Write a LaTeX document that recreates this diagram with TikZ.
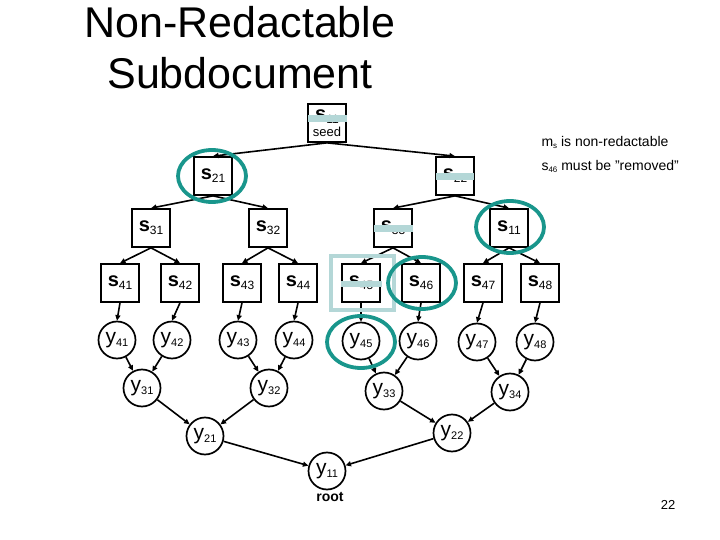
\documentclass[tikz,border=0pt]{standalone}
\usepackage{fontspec}
\setmainfont{Liberation Sans}
\usetikzlibrary{arrows.meta}

\definecolor{ringteal}{RGB}{25,150,140}
\definecolor{paleblue}{RGB}{180,215,215}

\newcommand{\sn}[1]{{\fontsize{20}{20}\selectfont\bfseries s}\raisebox{-3pt}{\fontsize{12}{12}\selectfont #1}}
\newcommand{\yn}[1]{{\fontsize{21}{21}\selectfont y}\raisebox{-3pt}{\fontsize{11}{11}\selectfont #1}}

\begin{document}
\begin{tikzpicture}[x=1pt, y=-1pt,
  sbox/.style={draw, line width=1.7pt, fill=white, minimum size=38pt, inner sep=0pt},
  ycirc/.style={draw, circle, line width=1.7pt, fill=white, minimum size=37pt, inner sep=0pt},
  arr/.style={-{Triangle[length=5.5pt,width=5pt]}, line width=1.6pt},
  ring/.style={draw=ringteal, line width=3.8pt},
  bar/.style={fill=paleblue}]

\useasboundingbox (0,0) rectangle (720,540);

% title and notes
\node[anchor=base] (title1) at (240,38) {\fontsize{43}{43}\selectfont Non-Redactable};
\node[anchor=base] (title2) at (240,89) {\fontsize{43}{43}\selectfont Subdocument};
\node[anchor=base west] (note1) at (538,147) {\fontsize{14}{14}\selectfont m\raisebox{-2pt}{\fontsize{8}{8}\selectfont s} is non-redactable};
\node[anchor=base west] (note2) at (538,171) {\fontsize{14}{14}\selectfont s\raisebox{-2pt}{\fontsize{8}{8}\selectfont 46} must be "removed"};
\node (page) at (668,505) {\fontsize{13}{13}\selectfont 22};

% s boxes
\node[sbox] (s11a) at (327,123) {};
\node[sbox] (s21) at (213,176) {\sn{21}};
\node[sbox] (s22) at (455,176) {\sn{22}};
\node[sbox] (s31) at (151,228) {\sn{31}};
\node[sbox] (s32) at (268,228) {\sn{32}};
\node[sbox] (s33) at (393,228) {\sn{33}};
\node[sbox] (s11b) at (509,228) {\sn{11}};
\node[sbox] (s41) at (120,283) {\sn{41}};
\node[sbox] (s42) at (180,283) {\sn{42}};
\node[sbox] (s43) at (242,283) {\sn{43}};
\node[sbox] (s44) at (298,283) {\sn{44}};
\node[sbox] (s45) at (361,283) {\sn{45}};
\node[sbox] (s46) at (421,283) {\sn{46}};
\node[sbox] (s47) at (483,283) {\sn{47}};
\node[sbox] (s48) at (540,283) {\sn{48}};
\node (s11t) at (327,117) {\sn{11}};
\node (seed) at (327,132) {\fontsize{13}{13}\selectfont seed};

% y circles
\node[ycirc] (y41) at (117,340) {\yn{41}};
\node[ycirc] (y42) at (172,340) {\yn{42}};
\node[ycirc] (y43) at (238,340) {\yn{43}};
\node[ycirc] (y44) at (294,340) {\yn{44}};
\node[ycirc] (y45) at (361,341) {\yn{45}};
\node[ycirc] (y46) at (418,341) {\yn{46}};
\node[ycirc] (y47) at (477,342) {\yn{47}};
\node[ycirc] (y48) at (535,342) {\yn{48}};
\node[ycirc] (y31) at (142,388) {\yn{31}};
\node[ycirc] (y32) at (269,388) {\yn{32}};
\node[ycirc] (y33) at (384,391) {\yn{33}};
\node[ycirc] (y34) at (510,392) {\yn{34}};
\node[ycirc] (y21) at (205,436) {\yn{21}};
\node[ycirc] (y22) at (452,433) {\yn{22}};
\node[ycirc] (y11) at (327,471) {\yn{11}};
\node (root) at (330,497) {\fontsize{14}{14}\selectfont\bfseries root};

% tree of s
\draw[arr] (s11a.south) -- (s21.north);
\draw[arr] (s11a.south) -- (s22.north);
\draw[arr] (s21.south) -- (s31.north);
\draw[arr] (s21.south) -- (s32.north);
\draw[arr] (s22.south) -- (s33.north);
\draw[arr] (s22.south) -- (s11b.north);
\draw[arr] (s31.south) -- (s41.north);
\draw[arr] (s31.south) -- (s42.north);
\draw[arr] (s32.south) -- (s43.north);
\draw[arr] (s32.south) -- (s44.north);
\draw[arr] (s33.south) -- (s45.north);
\draw[arr] (s33.south) -- (s46.north);
\draw[arr] (s11b.south) -- (s47.north);
\draw[arr] (s11b.south) -- (s48.north);

% leaves to y
\draw[arr] (s41.south) -- (y41.north);
\draw[arr] (s42.south) -- (y42.north);
\draw[arr] (s43.south) -- (y43.north);
\draw[arr] (s44.south) -- (y44.north);
\draw[arr] (s45.south) -- (y45.north);
\draw[arr] (s46.south) -- (y46.north);
\draw[arr] (s47.south) -- (y47.north);
\draw[arr] (s48.south) -- (y48.north);

% tree of y
\draw[arr] (y41) -- (y31);
\draw[arr] (y42) -- (y31);
\draw[arr] (y43) -- (y32);
\draw[arr] (y44) -- (y32);
\draw[arr] (y45) -- (y33);
\draw[arr] (y46) -- (y33);
\draw[arr] (y47) -- (y34);
\draw[arr] (y48) -- (y34);
\draw[arr] (y31) -- (y21);
\draw[arr] (y32) -- (y21);
\draw[arr] (y33) -- (y22);
\draw[arr] (y34) -- (y22);
\draw[arr] (y21) -- (y11);
\draw[arr] (y22) -- (y11);

% marks
\fill[bar] (308,115) rectangle (347,122);
\fill[bar] (436,173) rectangle (474,180);
\fill[bar] (374,225) rectangle (413,232);
\fill[bar] (341,281) rectangle (382,287);
\draw[paleblue, line width=4pt] (331,256) rectangle (394,310);
\draw[ring] (212,176) ellipse (34 and 26);
\draw[ring] (510,227) ellipse (34 and 26);
\draw[ring] (422,283) ellipse (34 and 26);
\draw[ring] (361,342) ellipse (34 and 26);

\end{tikzpicture}
\end{document}
